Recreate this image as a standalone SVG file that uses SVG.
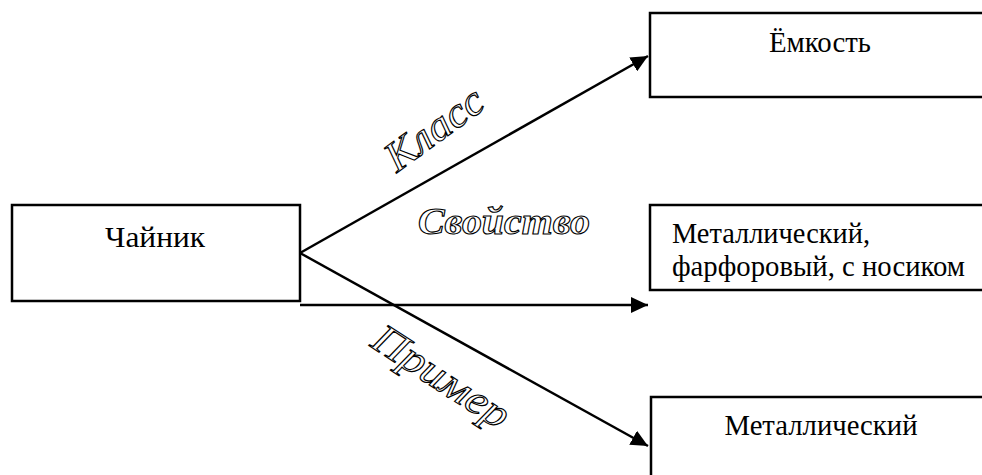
<svg xmlns="http://www.w3.org/2000/svg" width="982" height="475" viewBox="0 0 982 475">
<defs>
<marker id="ah" markerWidth="18" markerHeight="16" refX="17" refY="8" orient="auto" markerUnits="userSpaceOnUse">
<path d="M0,0 L17,8 L0,16 z" fill="#000"/>
</marker>
<style>
.box{fill:#fff;stroke:#000;stroke-width:2.5}
.t{font-family:"Liberation Serif","Times New Roman",serif;font-size:29px;fill:#000}
.lbl{font-family:"Liberation Serif","DejaVu Serif",serif;font-style:italic;fill:#fff;stroke:#000;stroke-width:1.1;font-size:42px}
.c{fill:none;stroke:#000;stroke-width:2.5}
</style>
</defs>
<rect width="982" height="475" fill="#fff"/>
<g id="connectors">
<line class="c" x1="300" y1="253" x2="648" y2="56" marker-end="url(#ah)"/>
<line class="c" x1="300" y1="253" x2="648" y2="446" marker-end="url(#ah)"/>
<line class="c" x1="300" y1="305" x2="648" y2="305" marker-end="url(#ah)"/>
</g>
<g id="node-chainik">
<rect class="box" x="12" y="205" width="288" height="96"/>
<text class="t" x="155" y="247" text-anchor="middle" textLength="100" lengthAdjust="spacingAndGlyphs">Чайник</text>
</g>
<g id="node-emkost">
<rect class="box" x="650" y="13" width="340" height="84"/>
<text class="t" x="820" y="52" text-anchor="middle" textLength="102" lengthAdjust="spacingAndGlyphs">Ёмкость</text>
</g>
<g id="node-svoistvo">
<rect class="box" x="650" y="205" width="340" height="85"/>
<text class="t" x="672" y="243" textLength="198" lengthAdjust="spacingAndGlyphs">Металлический,</text>
<text class="t" x="672" y="276" textLength="293" lengthAdjust="spacingAndGlyphs">фарфоровый, с носиком</text>
</g>
<g id="node-primer">
<rect class="box" x="651" y="397" width="340" height="90"/>
<text class="t" x="821" y="435" text-anchor="middle" textLength="193" lengthAdjust="spacingAndGlyphs">Металлический</text>
</g>
<g id="labels">
<text class="lbl" transform="translate(442,140) rotate(-36)" text-anchor="middle" textLength="112" lengthAdjust="spacingAndGlyphs">Класс</text>
<text class="lbl" style="font-weight:bold;font-size:38px" x="504" y="234" text-anchor="middle" textLength="172" lengthAdjust="spacingAndGlyphs">Свойство</text>
<text class="lbl" transform="translate(434,388) rotate(33)" text-anchor="middle" textLength="155" lengthAdjust="spacingAndGlyphs">Пример</text>
</g>
</svg>
